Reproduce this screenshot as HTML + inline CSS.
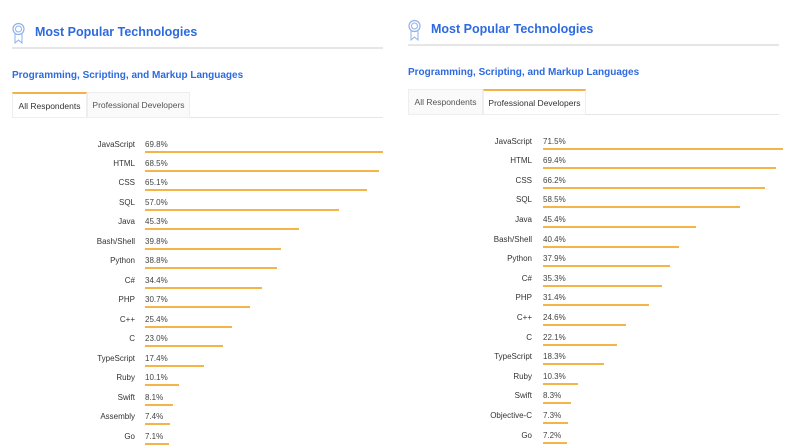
<!DOCTYPE html>
<html><head><meta charset="utf-8"><style>
body{margin:0;width:797px;height:448px;overflow:hidden;background:#fff;font-family:"Liberation Sans",sans-serif;position:relative}
.a{position:absolute}
.title{font-size:12.5px;font-weight:bold;color:#2d6ae0}
.sub{font-size:10px;font-weight:bold;color:#2d6ae0}
.hr{height:2px;background:#e6e6e6}
.tab{font-size:8.5px;color:#555;box-sizing:border-box;text-align:center;line-height:24px;height:26px;background:#fafafa;border:1px solid #eee}
.tab.on{background:#fff;border-top:2px solid #f4b04a;color:#333}
.lbl{font-size:8px;color:#333;text-align:right;width:100px}
.val{font-size:8px;color:#444}
.bar{height:2px;background:#f5b447}
</style></head><body>
<div id="root"></div>
<script>
const catsA=["JavaScript","HTML","CSS","SQL","Java","Bash/Shell","Python","C#","PHP","C++","C","TypeScript","Ruby","Swift","Assembly","Go"];
const valsA=[69.8,68.5,65.1,57.0,45.3,39.8,38.8,34.4,30.7,25.4,23.0,17.4,10.1,8.1,7.4,7.1];
const catsB=["JavaScript","HTML","CSS","SQL","Java","Bash/Shell","Python","C#","PHP","C++","C","TypeScript","Ruby","Swift","Objective-C","Go"];
const valsB=[71.5,69.4,66.2,58.5,45.4,40.4,37.9,35.3,31.4,24.6,22.1,18.3,10.3,8.3,7.3,7.2];
function mk(cls,x,y,w,txt,name,inter){const d=document.createElement('div');d.className='a '+cls;d.style.left=x+'px';d.style.top=y+'px';if(w)d.style.width=w+'px';if(txt)d.textContent=txt;


document.body.appendChild(d);return d;}
function panel(ox,oy,active,cats,vals,lblR,barX,scale,step,p){
 const ic=mk('',ox+12,oy+22,12,'',p+'-award-icon',false);
 ic.innerHTML='<svg width="13" height="22" viewBox="0 0 13 22"><circle cx="6.5" cy="7" r="5.5" fill="none" stroke="#8fb0ee" stroke-width="1.2"/><circle cx="6.5" cy="7" r="3" fill="none" stroke="#8fb0ee"/><path d="M3 12 L3 21 L6.5 18 L10 21 L10 12" fill="none" stroke="#8fb0ee"/></svg>';
 mk('title',ox+35,oy+25,0,'Most Popular Technologies',p+'-title',false);
 mk('hr',ox+12,oy+47,371,'',p+'-divider',false);
 mk('sub',ox+12,oy+70,0,'Programming, Scripting, and Markup Languages',p+'-subtitle',false);
 mk('tab'+(active==0?' on':''),ox+12,oy+92,75,'All Respondents',p+'-tab-all',true);
 mk('tab'+(active==1?' on':''),ox+87,oy+92,103,'Professional Developers',p+'-tab-pro',true);
 mk('hr',ox+190,oy+117,193,'',p+'-tab-line',false).style.height='1px';
 cats.forEach((c,i)=>{const y=oy+139.5+i*step;
  mk('lbl',lblR-100,y,100,c,p+'-label-'+i,false);
  mk('val',barX,y,0,vals[i].toFixed(1)+'%',p+'-value-'+i,false);
  mk('bar',barX,y+11,vals[i]*scale,'',p+'-bar-'+i,false);
 });
}
panel(0,0,0,catsA,valsA,135,145,3.41,19.47,'left');
panel(396,-3,1,catsB,valsB,532,543,3.36,19.6,'right');
</script>
</body></html>
